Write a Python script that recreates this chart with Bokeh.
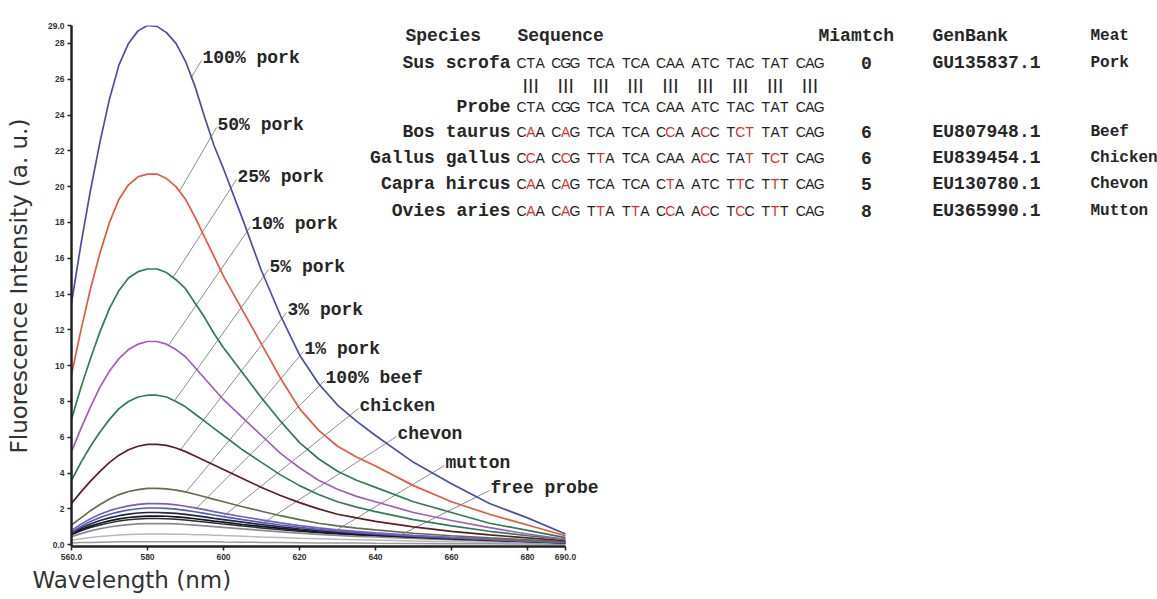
import numpy as np
from bokeh.plotting import figure
from bokeh.models import Range1d, FixedTicker, Title
from bokeh.core.properties import value
from bokeh.embed import file_html
from bokeh.resources import INLINE

# ---------------- data ----------------
wavelength = [560, 562.5, 565, 567.5, 570, 572.5, 575, 577.5, 580, 582.5, 585, 587.5, 590,
              592.5, 595, 597.5, 600, 605, 610, 615, 620, 625, 630, 635, 640, 650, 660,
              670, 680, 690]

pork_100 = [13.5, 16.8, 19.8, 22.5, 24.9, 26.8, 28.0, 28.7, 29.0, 28.95, 28.6, 28.0, 27.0,
            25.6, 23.9, 22.3, 21.0, 18.2, 15.3, 12.8, 10.6, 9.0, 7.8, 6.9, 6.1, 4.6, 3.4,
            2.3, 1.5, 0.6]
pork_50 = [9.5, 12.0, 14.3, 16.3, 18.0, 19.3, 20.1, 20.55, 20.7, 20.7, 20.45, 20.0, 19.3,
           18.3, 17.2, 16.1, 15.0, 13.1, 11.2, 9.3, 7.6, 6.4, 5.5, 4.9, 4.4, 3.3, 2.4,
           1.7, 1.1, 0.5]
pork_25 = [7.0, 8.8, 10.4, 11.9, 13.2, 14.2, 14.9, 15.25, 15.4, 15.4, 15.2, 14.8, 14.3,
           13.5, 12.7, 11.8, 11.0, 9.6, 8.2, 6.9, 5.7, 4.8, 4.1, 3.6, 3.2, 2.4, 1.8,
           1.2, 0.8, 0.4]
pork_10 = [5.2, 6.5, 7.7, 8.8, 9.7, 10.4, 10.9, 11.2, 11.35, 11.35, 11.2, 10.9, 10.5,
           9.9, 9.3, 8.7, 8.1, 7.1, 6.1, 5.1, 4.3, 3.6, 3.1, 2.7, 2.4, 1.8, 1.35,
           0.95, 0.6, 0.3]
pork_5 = [3.6, 4.6, 5.5, 6.3, 7.0, 7.6, 8.0, 8.25, 8.35, 8.35, 8.25, 8.0, 7.7,
          7.3, 6.9, 6.5, 6.1, 5.3, 4.6, 3.9, 3.3, 2.8, 2.4, 2.1, 1.85, 1.4, 1.05,
          0.75, 0.5, 0.3]
pork_3 = [2.3, 2.95, 3.55, 4.1, 4.6, 5.0, 5.3, 5.5, 5.6, 5.6, 5.55, 5.4, 5.2,
          4.95, 4.7, 4.45, 4.2, 3.7, 3.2, 2.75, 2.35, 2.0, 1.7, 1.5, 1.3, 1.0, 0.75,
          0.55, 0.38, 0.22]
pork_1 = [1.1, 1.5, 1.9, 2.25, 2.55, 2.8, 2.97, 3.08, 3.15, 3.15, 3.12, 3.05, 2.95,
          2.82, 2.68, 2.53, 2.4, 2.12, 1.87, 1.62, 1.4, 1.2, 1.05, 0.93, 0.83, 0.64, 0.5,
          0.38, 0.27, 0.16]
beef_100 = [0.8, 1.15, 1.45, 1.7, 1.9, 2.05, 2.17, 2.25, 2.3, 2.3, 2.28, 2.23, 2.15,
            2.06, 1.96, 1.85, 1.75, 1.56, 1.39, 1.22, 1.07, 0.94, 0.83, 0.74, 0.66, 0.52,
            0.41, 0.31, 0.22, 0.13]
chicken = [0.7, 1.02, 1.3, 1.52, 1.7, 1.83, 1.94, 2.01, 2.05, 2.05, 2.03, 1.99, 1.92,
           1.84, 1.75, 1.66, 1.57, 1.4, 1.25, 1.1, 0.97, 0.86, 0.76, 0.68, 0.61, 0.48,
           0.38, 0.29, 0.2, 0.12]
chevon = [0.65, 0.93, 1.16, 1.35, 1.5, 1.62, 1.71, 1.77, 1.8, 1.8, 1.78, 1.75, 1.69,
          1.62, 1.55, 1.47, 1.4, 1.26, 1.13, 1.0, 0.89, 0.79, 0.7, 0.63, 0.57, 0.45,
          0.36, 0.27, 0.19, 0.11]
mutton = [0.6, 0.85, 1.04, 1.2, 1.33, 1.44, 1.52, 1.57, 1.6, 1.6, 1.59, 1.56, 1.51,
          1.45, 1.39, 1.32, 1.26, 1.13, 1.02, 0.91, 0.81, 0.72, 0.65, 0.58, 0.53, 0.42,
          0.33, 0.25, 0.18, 0.1]
free_probe = [0.45, 0.62, 0.77, 0.89, 0.99, 1.07, 1.12, 1.16, 1.18, 1.18, 1.18, 1.16, 1.13,
              1.09, 1.05, 1.01, 0.97, 0.88, 0.8, 0.72, 0.65, 0.58, 0.52, 0.47, 0.43, 0.35,
              0.28, 0.21, 0.15, 0.09]
# unlabelled low traces
trace_a = [0.55, 0.78, 0.96, 1.1, 1.22, 1.32, 1.39, 1.44, 1.46, 1.46, 1.45, 1.42, 1.38,
           1.33, 1.27, 1.21, 1.15, 1.04, 0.94, 0.84, 0.75, 0.67, 0.6, 0.54, 0.49, 0.39,
           0.31, 0.24, 0.17, 0.1]
trace_b = [0.25, 0.33, 0.4, 0.46, 0.5, 0.54, 0.57, 0.59, 0.6, 0.6, 0.6, 0.59, 0.58,
           0.56, 0.55, 0.53, 0.51, 0.47, 0.43, 0.4, 0.36, 0.33, 0.3, 0.28, 0.26, 0.21,
           0.17, 0.13, 0.09, 0.06]
trace_c = [0.1, 0.12, 0.13, 0.14, 0.15, 0.16, 0.16, 0.17, 0.17, 0.17, 0.17, 0.17, 0.17,
           0.16, 0.16, 0.16, 0.15, 0.14, 0.13, 0.12, 0.11, 0.1, 0.1, 0.09, 0.08, 0.07,
           0.06, 0.05, 0.04, 0.03]

series_labels = ["100% pork", "50% pork", "25% pork", "10% pork", "5% pork", "3% pork",
                 "1% pork", "100% beef", "chicken", "chevon", "mutton", "free probe"]
series_values = [pork_100, pork_50, pork_25, pork_10, pork_5, pork_3, pork_1,
                 beef_100, chicken, chevon, mutton, free_probe]
series_colors = ["#4a4fa3", "#e8573f", "#2f7d52", "#a35cb8", "#2f7a5c", "#5a1f22",
                 "#5f6e4c", "#7b5cc0", "#4f5fb2", "#23244a", "#141414", "#8a8a8a"]
extra_values = [trace_a, trace_b, trace_c]
extra_colors = ["#2a2a3a", "#b8b8b8", "#9a9a9a"]

x_ticks = [560, 580, 600, 620, 640, 660, 680, 690]
y_ticks = [0, 2, 4, 6, 8, 10, 12, 14, 16, 18, 20, 22, 24, 26, 28, 29]

table_header = ["Species", "Sequence", "Miamtch", "GenBank", "Meat"]
species = ["Sus scrofa", "Probe", "Bos taurus", "Gallus gallus", "Capra hircus", "Ovies aries"]
sequences = ["CTA CGG TCA TCA CAA ATC TAC TAT CAG",
             "CTA CGG TCA TCA CAA ATC TAC TAT CAG",
             "CAA CAG TCA TCA CCA ACC TCT TAT CAG",
             "CCA CCG TTA TCA CAA ACC TAT TCT CAG",
             "CAA CAG TCA TCA CTA ATC TTC TTT CAG",
             "CAA CAG TTA TTA CCA ACC TCC TTT CAG"]
mismatch = ["0", "", "6", "6", "5", "8"]
genbank = ["GU135837.1", "", "EU807948.1", "EU839454.1", "EU130780.1", "EU365990.1"]
meat = ["Pork", "", "Beef", "Chicken", "Chevon", "Mutton"]

# ---------------- layout ----------------
W, H = 1157, 599
FL, FT = 71, 25                 # frame left / top on the canvas
FW, FH = W - FL, 521            # frame size
PX_PER_NM = 3.8
X0, X1 = 560, 560 + FW / PX_PER_NM
Y0, Y1 = -0.1, 29.0
PX_PER_UNIT = FH / (Y1 - Y0)

p = figure(width=W, height=H, x_range=Range1d(X0, X1), y_range=Range1d(Y0, Y1),
           output_backend="svg", toolbar_location=None,
           min_border_left=FL, min_border_right=0, min_border_top=FT,
           min_border_bottom=H - FT - FH)
p.extra_x_ranges = {"win": Range1d(FL, FL + FW)}
p.extra_y_ranges = {"win": Range1d(FT + FH, FT)}
p.outline_line_color = None
p.grid.visible = False
p.background_fill_color = "white"
p.border_fill_color = "white"

for ax in (p.xaxis[0], p.yaxis[0]):
    ax.axis_line_color = "#222222"
    ax.axis_line_width = 2.5
    ax.major_tick_line_color = "#222222"
    ax.major_tick_line_width = 1.5
    ax.major_tick_out = 4
    ax.major_tick_in = 0
    ax.minor_tick_line_color = None
    ax.major_label_text_font = "Liberation Sans"
    ax.major_label_text_font_size = "8.5px"
    ax.major_label_text_font_style = "bold"
    ax.major_label_text_color = "#333333"
    ax.major_label_standoff = 3

p.xaxis.ticker = FixedTicker(ticks=x_ticks)
p.xaxis.bounds = (560, 690)
p.xaxis.major_label_overrides = {560: "560.0", 690: "690.0"}
p.yaxis.ticker = FixedTicker(ticks=y_ticks)
p.yaxis.major_label_overrides = {0: "0.0", 29: "29.0"}
p.yaxis.axis_label = "Fluorescence Intensity (a. u.)"
p.yaxis.axis_label_text_font = "DejaVu Sans"
p.yaxis.axis_label_text_font_size = "23px"
p.yaxis.axis_label_text_font_style = "normal"
p.yaxis.axis_label_text_color = "#333333"
p.yaxis.axis_label_standoff = 13

p.add_layout(Title(text="Wavelength (nm)", align="left", offset=-39, standoff=5,
                   text_font="DejaVu Sans", text_font_size="23px",
                   text_font_style="normal", text_color="#333333"), "below")


def to_wx(lam):
    return FL + (np.asarray(lam, dtype=float) - X0) * PX_PER_NM


def to_wy(v):
    return FT + FH - (np.asarray(v, dtype=float) - Y0) * PX_PER_UNIT


# ---------------- leader lines + curve labels ----------------
label_pos = [(202, 57), (217, 124), (237, 176), (251, 223), (269, 266), (287, 309),
             (304, 348), (325, 377), (359, 405), (397, 433), (445, 462), (490, 487)]
leader_slopes = [1.8, 1.75, 1.55, 1.45, 1.4, 1.3, 1.2, 1.0, 0.8, 0.65, 0.6, 0.5]

wx_curve = to_wx(wavelength)
lx0, ly0, lx1, ly1 = [], [], [], []
for (tx, ty), s, vals in zip(label_pos, leader_slopes, series_values):
    ax_, ay_ = tx - 1, ty + 3
    xs = np.arange(ax_, FL + 2, -0.5)
    cy = np.interp(xs, wx_curve, to_wy(vals))
    ly = ay_ + s * (ax_ - xs)
    hit = np.nonzero(ly >= cy)[0]
    k = hit[0] if len(hit) else len(xs) - 1
    lx0.append(ax_); ly0.append(ay_); lx1.append(xs[k]); ly1.append(cy[k])

p.segment(x0=lx0, y0=ly0, x1=lx1, y1=ly1, line_color="#8c8c8c", line_width=1,
          x_range_name="win", y_range_name="win")

# ---------------- curves ----------------
for vals, col in zip(extra_values, extra_colors):
    p.line(wavelength, vals, line_color=col, line_width=1.5)
for vals, col in zip(series_values[::-1], series_colors[::-1]):
    p.line(wavelength, vals, line_color=col, line_width=1.7)

MONO = value("Liberation Mono")
TXT = dict(text_font=MONO, text_font_style="bold", text_color="#262626",
           text_baseline="middle", x_range_name="win", y_range_name="win")
p.text(x=[q[0] for q in label_pos], y=[q[1] for q in label_pos], text=series_labels,
       text_font_size="18px", text_align="left", **TXT)

# ---------------- table ----------------
header_y = 35
row_y = [62, 106, 131, 157, 183, 210]
p.text(x=[405, 517, 818, 932], y=[header_y] * 4, text=table_header[:4],
       text_font_size="18px", text_align="left", **TXT)
p.text(x=[1090], y=[header_y], text=table_header[4:],
       text_font_size="16px", text_align="left", **TXT)
p.text(x=[510] * len(species), y=row_y, text=species,
       text_font_size="18px", text_align="right", **TXT)
p.text(x=[866] * len(mismatch), y=row_y, text=mismatch,
       text_font_size="18px", text_align="center", **TXT)
p.text(x=[932] * len(genbank), y=row_y, text=genbank,
       text_font_size="18px", text_align="left", **TXT)
p.text(x=[1090] * len(meat), y=row_y, text=meat,
       text_font_size="16px", text_align="left", **TXT)

SEQ_X0, CODON_PITCH, CHAR_PITCH = 521, 34.9, 9.3
probe_codons = sequences[1].split()
bx, by, bt, rx, ry, rt = [], [], [], [], [], []
for r, (seq, yy) in enumerate(zip(sequences, row_y)):
    for i, codon in enumerate(seq.split()):
        for j, ch in enumerate(codon):
            xx = SEQ_X0 + i * CODON_PITCH + j * CHAR_PITCH
            if r >= 2 and ch != probe_codons[i][j]:
                rx.append(xx); ry.append(yy); rt.append(ch)
            else:
                bx.append(xx); by.append(yy); bt.append(ch)
SEQ_FONT = value("Liberation Sans")
SEQ = dict(text_font=SEQ_FONT, text_font_size="14px", text_align="center",
           text_baseline="middle", x_range_name="win", y_range_name="win")
p.text(x=bx, y=by, text=bt, text_color="#1e1e1e", **SEQ)
p.text(x=rx, y=ry, text=rt, text_color="#d9302f", **SEQ)

# match bars between Sus scrofa and the probe
px_, pt_ = [], []
for i in range(len(probe_codons)):
    for j in range(3):
        px_.append(SEQ_X0 + i * CODON_PITCH + CHAR_PITCH + (j - 1) * 5.5)
        pt_.append("|")
p.text(x=px_, y=[84] * len(px_), text=pt_, text_font=SEQ_FONT, text_font_size="14px",
       text_font_style="bold", text_color="#2a2a2a", text_align="center",
       text_baseline="middle", x_range_name="win", y_range_name="win")

open("out.html", "w").write(file_html(p, INLINE))
